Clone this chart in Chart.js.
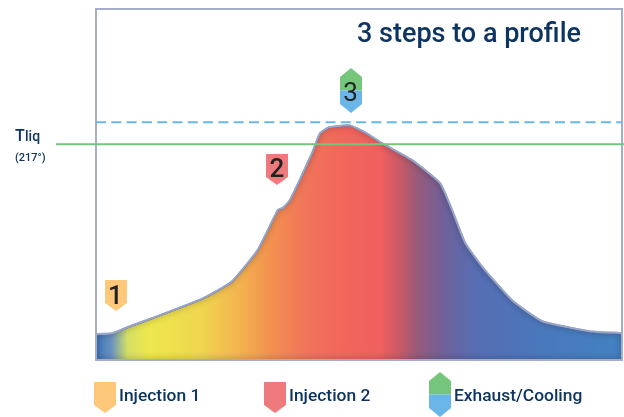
<!DOCTYPE html>
<html>
<head>
<meta charset="utf-8">
<style>
  html, body { margin: 0; padding: 0; background: #fff; }
  canvas { display: block; }
</style>
<script src="https://cdn.jsdelivr.net/npm/chart.js@4"></script>
</head>
<body>
<canvas id="myChart" width="624" height="417"></canvas>
<script>
// profile curve: time against temperature
const times = [0, 17, 34, 56, 107, 136, 162, 182, 187, 194, 216, 224, 233, 253, 269, 286, 316, 344, 356, 369, 386, 416, 446, 493, 526];
const temps = [26, 27, 34, 42, 62, 79, 111, 151, 153, 161, 208, 228, 234, 236, 229, 218, 201, 178, 151, 118, 94, 60, 39, 29, 27];

const tliqLine = [{ x: -40, y: 217 }, { x: 528, y: 217 }];
const peakLine = [{ x: 0, y: 239 }, { x: 526, y: 239 }];

const title = '3 steps to a profile';
const legendLabels = ['Injection 1', 'Injection 2', 'Exhaust/Cooling'];

// gradient along the time axis
const gradientStops = [
  [0, '#3f74bc'], [0.03, '#6a93c0'], [0.06, '#d5e062'], [0.1, '#eee84e'],
  [0.2, '#efd64e'], [0.27, '#f4b54f'], [0.33, '#f3924f'], [0.4, '#f1745a'],
  [0.47, '#f2665c'], [0.54, '#f0605f'], [0.58, '#c65a68'], [0.61, '#985a79'],
  [0.66, '#6f6199'], [0.72, '#566db3'], [0.85, '#4a78bc'], [1, '#4282c2']
];

const YELLOW = '#fdc87a', RED = '#ee7a7e', GREEN = '#75c67c', BLUE = '#6bb6e8';
const NAVY = '#0d3560', FRAME = '#a4aecb', EDGE = '#98a5c8';

function areaFill(context) {
  const area = context.chart.chartArea;
  if (!area) return '#f0605f';
  const g = context.chart.ctx.createLinearGradient(area.left, 0, area.right, 0);
  gradientStops.forEach(s => g.addColorStop(s[0], s[1]));
  return g;
}

function polygon(ctx, pts, color) {
  ctx.beginPath();
  pts.forEach((p, i) => i ? ctx.lineTo(p[0], p[1]) : ctx.moveTo(p[0], p[1]));
  ctx.closePath();
  ctx.fillStyle = color;
  ctx.fill();
}

// pentagon flag pointing down
function flag(ctx, left, top, color) {
  polygon(ctx, [[left, top], [left + 22, top], [left + 22, top + 23], [left + 11, top + 31], [left, top + 23]], color);
}

// hexagon, green on top and blue below
function hex(ctx, left, top, h) {
  const mid = top + h / 2;
  polygon(ctx, [[left, top + 9], [left + 11, top], [left + 22, top + 9], [left + 22, mid], [left, mid]], GREEN);
  polygon(ctx, [[left, mid], [left + 22, mid], [left + 22, top + h - 9], [left + 11, top + h], [left, top + h - 9]], BLUE);
}

const decorations = {
  id: 'decorations',
  // soft dark rim inside the area, then the frame, all under the two temperature lines
  afterDatasetDraw(chart, args) {
    if (args.index !== 0) return;
    const a = chart.chartArea, ctx = chart.ctx;
    const line = args.meta.dataset;

    ctx.save();
    ctx.beginPath();
    line.path(ctx);
    ctx.lineTo(a.right, a.bottom);
    ctx.lineTo(a.left, a.bottom);
    ctx.closePath();
    ctx.clip();
    ctx.globalCompositeOperation = 'multiply';
    ctx.shadowColor = 'rgba(90,70,80,0.8)';
    ctx.shadowBlur = 6;
    ctx.strokeStyle = 'rgba(90,70,80,0.8)';
    ctx.lineWidth = 2;
    ctx.stroke();
    ctx.restore();

    ctx.save();
    ctx.strokeStyle = EDGE;
    ctx.lineWidth = 2;
    ctx.beginPath();
    line.path(ctx);
    ctx.stroke();
    ctx.strokeStyle = FRAME;
    ctx.strokeRect(a.left, a.top, a.width, a.height);
    ctx.restore();
  },
  afterDraw(chart) {
    const ctx = chart.ctx;
    ctx.save();
    flag(ctx, 105, 280, YELLOW);
    flag(ctx, 266, 154, RED);
    hex(ctx, 340, 68, 45);
    flag(ctx, 94, 382, YELLOW);
    flag(ctx, 264, 382, RED);
    hex(ctx, 429, 372, 45);

    ctx.textBaseline = 'alphabetic';
    ctx.textAlign = 'center';
    ctx.fillStyle = '#222';
    ctx.font = '500 26px Roboto';
    ctx.fillText('1', 115.5, 304);
    ctx.fillText('2', 277, 177);
    ctx.font = '400 26px Roboto';
    ctx.fillText('3', 350.5, 101);

    ctx.textAlign = 'left';
    ctx.fillStyle = NAVY;
    ctx.font = '500 27px Roboto';
    ctx.fillText(title, 357, 42);
    ctx.font = '500 17.4px Roboto';
    ctx.fillText(legendLabels[0], 119, 401);
    ctx.fillText(legendLabels[1], 289, 401);
    ctx.fillText(legendLabels[2], 454, 401);

    ctx.font = '500 16px Roboto';
    ctx.fillText('T', 15, 141);
    ctx.font = '500 14px Roboto';
    ctx.fillText('liq', 25, 141);
    ctx.font = '500 11px Roboto';
    ctx.fillText('(217°)', 15, 161);
    ctx.restore();
  }
};

new Chart(document.getElementById('myChart'), {
  type: 'line',
  data: {
    datasets: [
      {
        label: 'Profile',
        data: times.map((t, i) => ({ x: t, y: temps[i] })),
        fill: 'origin',
        backgroundColor: areaFill,
        borderColor: EDGE,
        borderWidth: 2,
        pointRadius: 0,
        tension: 0.15,
        order: 3
      },
      {
        label: 'Peak',
        data: peakLine,
        borderColor: BLUE,
        borderWidth: 2,
        borderDash: [10, 5.3],
        pointRadius: 0,
        order: 2
      },
      {
        label: 'Tliq',
        data: tliqLine,
        borderColor: GREEN,
        borderWidth: 2,
        pointRadius: 0,
        clip: false,
        order: 1
      }
    ]
  },
  options: {
    responsive: false,
    animation: false,
    layout: { padding: { left: 96, top: 9, right: 2, bottom: 57 } },
    plugins: { legend: { display: false }, title: { display: false }, tooltip: { enabled: false } },
    scales: {
      x: { type: 'linear', display: false, min: 0, max: 526 },
      y: { display: false, min: 0, max: 353 }
    }
  },
  plugins: [decorations]
});
</script>
</body>
</html>
